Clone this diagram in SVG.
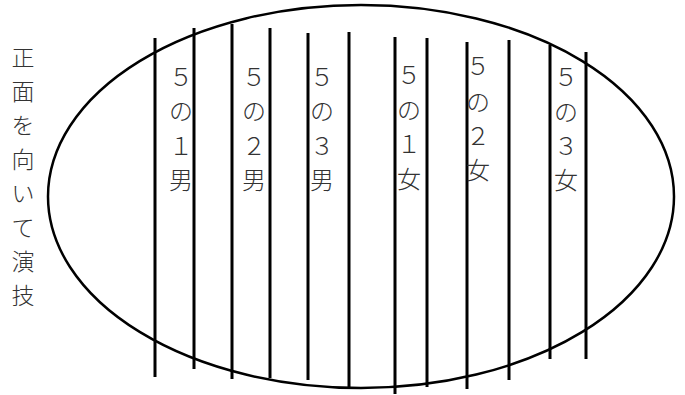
<svg xmlns="http://www.w3.org/2000/svg" width="685" height="395" viewBox="0 0 685 395">
<style>
.ln{stroke:#000;stroke-width:3;fill:none}
.el{stroke:#000;stroke-width:2.5;fill:none}
.t{font-family:"Noto Sans CJK JP",sans-serif;font-size:24px;font-weight:300;fill:#333;text-anchor:middle}
.lt{font-family:"Noto Sans CJK JP",sans-serif;font-size:23px;font-weight:300;fill:#333;text-anchor:middle}
</style>
<rect width="685" height="395" fill="#fff"/>
<g id="stage">
<ellipse class="el" cx="361" cy="196.5" rx="313" ry="191.5"/>
</g>
<g id="lines">
<line class="ln" x1="155" y1="38" x2="155" y2="377"/>
<line class="ln" x1="194" y1="28" x2="194" y2="369"/>
<line class="ln" x1="232" y1="24" x2="232" y2="379"/>
<line class="ln" x1="270" y1="28" x2="270" y2="378"/>
<line class="ln" x1="308" y1="33" x2="308" y2="380"/>
<line class="ln" x1="349" y1="32" x2="349" y2="388"/>
<line class="ln" x1="395" y1="37" x2="395" y2="394"/>
<line class="ln" x1="427" y1="38" x2="427" y2="387"/>
<line class="ln" x1="467" y1="42" x2="467" y2="389"/>
<line class="ln" x1="509" y1="40" x2="509" y2="380"/>
<line class="ln" x1="550" y1="45" x2="550" y2="359"/>
<line class="ln" x1="586" y1="52" x2="586" y2="359"/>
</g>
<g id="label-front">
<text class="lt"><tspan x="23" y="66">正</tspan><tspan x="23" y="100">面</tspan><tspan x="23" y="134">を</tspan><tspan x="23" y="168">向</tspan><tspan x="23" y="202">い</tspan><tspan x="23" y="236">て</tspan><tspan x="23" y="270">演</tspan><tspan x="23" y="304">技</tspan></text>
</g>
<g id="col-5-1-boy">
<text class="t"><tspan x="181" y="86">５</tspan><tspan x="181" y="120">の</tspan><tspan x="181" y="155">１</tspan><tspan x="181" y="189">男</tspan></text>
</g>
<g id="col-5-2-boy">
<text class="t"><tspan x="254" y="86">５</tspan><tspan x="254" y="120">の</tspan><tspan x="254" y="155">２</tspan><tspan x="254" y="189">男</tspan></text>
</g>
<g id="col-5-3-boy">
<text class="t"><tspan x="322" y="86">５</tspan><tspan x="322" y="120">の</tspan><tspan x="322" y="155">３</tspan><tspan x="322" y="189">男</tspan></text>
</g>
<g id="col-5-1-girl">
<text class="t"><tspan x="409" y="84">５</tspan><tspan x="409" y="119">の</tspan><tspan x="409" y="153">１</tspan><tspan x="409" y="188">女</tspan></text>
</g>
<g id="col-5-2-girl">
<text class="t"><tspan x="478" y="75">５</tspan><tspan x="478" y="111">の</tspan><tspan x="478" y="145">２</tspan><tspan x="478" y="179">女</tspan></text>
</g>
<g id="col-5-3-girl">
<text class="t"><tspan x="566" y="86">５</tspan><tspan x="566" y="121">の</tspan><tspan x="566" y="155">３</tspan><tspan x="566" y="189">女</tspan></text>
</g>
</svg>
